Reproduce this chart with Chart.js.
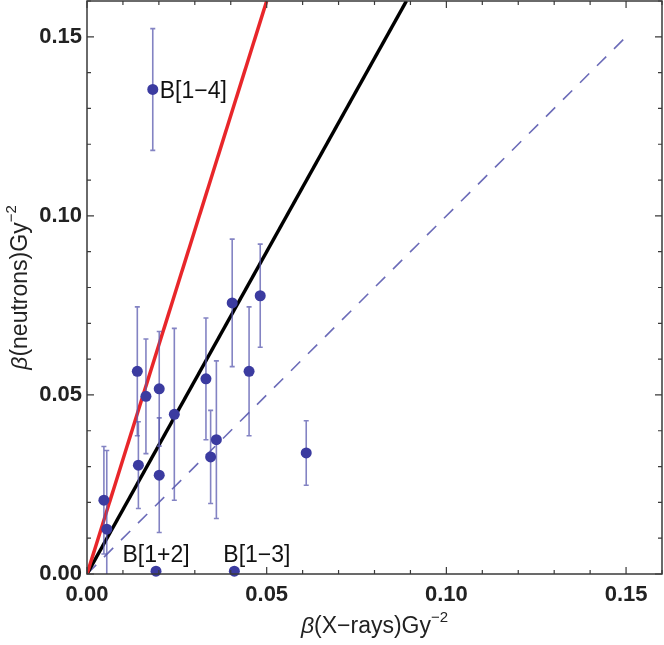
<!DOCTYPE html>
<html>
<head>
<meta charset="utf-8">
<script src="https://cdn.jsdelivr.net/npm/chart.js@4.4.1/dist/chart.umd.min.js"></script>
<style>
  html, body { margin: 0; padding: 0; background: #fff; }
</style>
</head>
<body>
<canvas id="betaChart" width="664" height="645"></canvas>
<script>
// data
const xRays     = [0.0047, 0.0055, 0.0140, 0.0143, 0.0164, 0.0201, 0.0201, 0.0243, 0.0331,
                   0.0344, 0.0360, 0.0404, 0.0451, 0.0482, 0.0610, 0.0192, 0.0410, 0.0183];
const neutrons  = [0.0206, 0.0125, 0.0566, 0.0304, 0.0496, 0.0517, 0.0276, 0.0446, 0.0545,
                   0.0327, 0.0375, 0.0757, 0.0566, 0.0777, 0.0338, 0.0008, 0.0008, 0.1353];
const neutronErr = [0.0150, 0.0220, 0.0180, 0.0121, 0.0160, 0.0160, 0.0160, 0.0240, 0.0170,
                    0.0130, 0.0220, 0.0178, 0.0180, 0.0144, 0.0090, 0, 0, 0.0170];
const pointNames = ['', '', '', '', '', '', '', '', '', '', '', '', '', '', '', 'B[1+2]', 'B[1\u22123]', 'B[1\u22124]'];

const redSlope = 3.2;     // steeper fit
const blackSlope = 1.8;   // main fit
const unityLine = [0, 0.15];
const axisMax = 0.16;

const ptColor = '#3b3ba0';
const barColor = 'rgba(90,90,175,0.75)';
const isMajor = v => Math.round(v * 100) % 5 === 0;

// error bars, drawn just before the points
const errorBars = {
  id: 'errorBars',
  beforeDatasetDraw(chart, args) {
    if (args.index !== 0) return;
    const { ctx, chartArea: a, scales: { x, y } } = chart;
    ctx.save();
    ctx.beginPath();
    ctx.rect(a.left, a.top, a.right - a.left, a.bottom - a.top);
    ctx.clip();
    ctx.strokeStyle = barColor;
    ctx.lineWidth = 1.6;
    xRays.forEach((xv, i) => {
      const e = neutronErr[i];
      if (!e) return;
      const px = x.getPixelForValue(xv);
      const top = y.getPixelForValue(neutrons[i] + e);
      const bot = y.getPixelForValue(neutrons[i] - e);
      ctx.beginPath();
      ctx.moveTo(px, top); ctx.lineTo(px, bot);
      ctx.moveTo(px - 2.5, top); ctx.lineTo(px + 2.5, top);
      ctx.moveTo(px - 2.5, bot); ctx.lineTo(px + 2.5, bot);
      ctx.stroke();
    });
    ctx.restore();
  }
};

// point names
const pointLabels = {
  id: 'pointLabels',
  afterDatasetsDraw(chart) {
    const { ctx, scales: { x, y } } = chart;
    ctx.save();
    ctx.font = '23px "Liberation Sans", Arial, sans-serif';
    ctx.fillStyle = '#111';
    pointNames.forEach((name, i) => {
      if (!name) return;
      const px = x.getPixelForValue(xRays[i]);
      const py = y.getPixelForValue(neutrons[i]);
      if (name === 'B[1\u22124]') {
        ctx.textAlign = 'left'; ctx.textBaseline = 'middle';
        ctx.fillText(name, px + 7, py + 2);
      } else if (name === 'B[1+2]') {
        ctx.textAlign = 'center'; ctx.textBaseline = 'alphabetic';
        ctx.fillText(name, px, py - 9);
      } else {
        ctx.textAlign = 'left'; ctx.textBaseline = 'alphabetic';
        ctx.fillText(name, px - 11, py - 9);
      }
    });
    ctx.restore();
  }
};

// frame with inward ticks on all four sides, plus axis titles
function drawTitle(ctx, parts, cx, cy) {
  const base = '23px "Liberation Sans", Arial, sans-serif';
  const fonts = parts.map(p => p.sup ? '15px "Liberation Sans", Arial, sans-serif'
                               : (p.italic ? 'italic ' + base : base));
  let w = 0;
  parts.forEach((p, i) => { ctx.font = fonts[i]; w += ctx.measureText(p.t).width; });
  let xx = cx - w / 2;
  ctx.textAlign = 'left';
  ctx.textBaseline = 'middle';
  parts.forEach((p, i) => {
    ctx.font = fonts[i];
    ctx.fillText(p.t, xx, p.sup ? cy - 9 : cy);
    xx += ctx.measureText(p.t).width;
  });
}

const frame = {
  id: 'frame',
  afterDraw(chart) {
    const { ctx, chartArea: a, scales: { x, y } } = chart;
    ctx.save();
    ctx.strokeStyle = '#3a3a3a';
    ctx.lineWidth = 1.5;
    ctx.strokeRect(a.left, a.top, a.right - a.left, a.bottom - a.top);
    ctx.lineWidth = 1.2;
    ctx.beginPath();
    x.ticks.forEach(t => {
      const p = x.getPixelForValue(t.value);
      const len = isMajor(t.value) ? 7 : 4;
      ctx.moveTo(p, a.bottom); ctx.lineTo(p, a.bottom - len);
      ctx.moveTo(p, a.top); ctx.lineTo(p, a.top + len);
    });
    y.ticks.forEach(t => {
      const p = y.getPixelForValue(t.value);
      const len = isMajor(t.value) ? 7 : 4;
      ctx.moveTo(a.left, p); ctx.lineTo(a.left + len, p);
      ctx.moveTo(a.right, p); ctx.lineTo(a.right - len, p);
    });
    ctx.stroke();

    ctx.fillStyle = '#222';
    drawTitle(ctx, [{ t: '\u03b2', italic: true }, { t: '(X\u2212rays)Gy' }, { t: '\u22122', sup: true }],
      (a.left + a.right) / 2, 627);
    ctx.translate(21, (a.top + a.bottom) / 2);
    ctx.rotate(-Math.PI / 2);
    drawTitle(ctx, [{ t: '\u03b2', italic: true }, { t: '(neutrons)Gy' }, { t: '\u22122', sup: true }], 0, 0);
    ctx.restore();
  }
};

const tickFont = { family: '"Liberation Sans", Arial, sans-serif', size: 22, weight: 'bold' };

new Chart(document.getElementById('betaChart'), {
  type: 'scatter',
  data: {
    datasets: [
      {
        data: xRays.map((v, i) => ({ x: v, y: neutrons[i] })),
        backgroundColor: ptColor,
        borderWidth: 0,
        pointRadius: 5.5,
        clip: false,
        order: 0
      },
      {
        data: [{ x: 0, y: 0 }, { x: axisMax / redSlope, y: axisMax }],
        showLine: true, borderColor: '#e8262a', borderWidth: 3.5, pointRadius: 0, order: 2
      },
      {
        data: [{ x: 0, y: 0 }, { x: axisMax / blackSlope, y: axisMax }],
        showLine: true, borderColor: '#000', borderWidth: 3.5, pointRadius: 0, order: 2
      },
      {
        data: unityLine.map(v => ({ x: v, y: v })),
        showLine: true, borderColor: '#6b6bb8', borderWidth: 1.6, borderDash: [13, 11],
        pointRadius: 0, order: 3
      }
    ]
  },
  options: {
    responsive: false,
    animation: false,
    devicePixelRatio: 1,
    layout: { autoPadding: false, padding: { top: 1, right: 2, left: 0, bottom: 0 } },
    plugins: { legend: { display: false }, tooltip: { enabled: false } },
    scales: {
      x: {
        type: 'linear', min: 0, max: axisMax,
        grid: { display: false, drawTicks: false }, border: { display: false },
        ticks: {
          stepSize: 0.01, autoSkip: false, maxRotation: 0, padding: 8,
          color: '#222', font: tickFont,
          callback: v => isMajor(v) ? v.toFixed(2) : ''
        },
        afterFit: s => { s.height = 71; s.paddingLeft = 0; s.paddingRight = 0; }
      },
      y: {
        type: 'linear', min: 0, max: axisMax,
        grid: { display: false, drawTicks: false }, border: { display: false },
        ticks: {
          stepSize: 0.01, autoSkip: false, padding: 5,
          color: '#222', font: tickFont,
          callback: v => isMajor(v) ? v.toFixed(2) : ''
        },
        afterFit: s => { s.width = 87; s.paddingTop = 0; s.paddingBottom = 0; }
      }
    }
  },
  plugins: [errorBars, pointLabels, frame]
});
</script>
</body>
</html>
